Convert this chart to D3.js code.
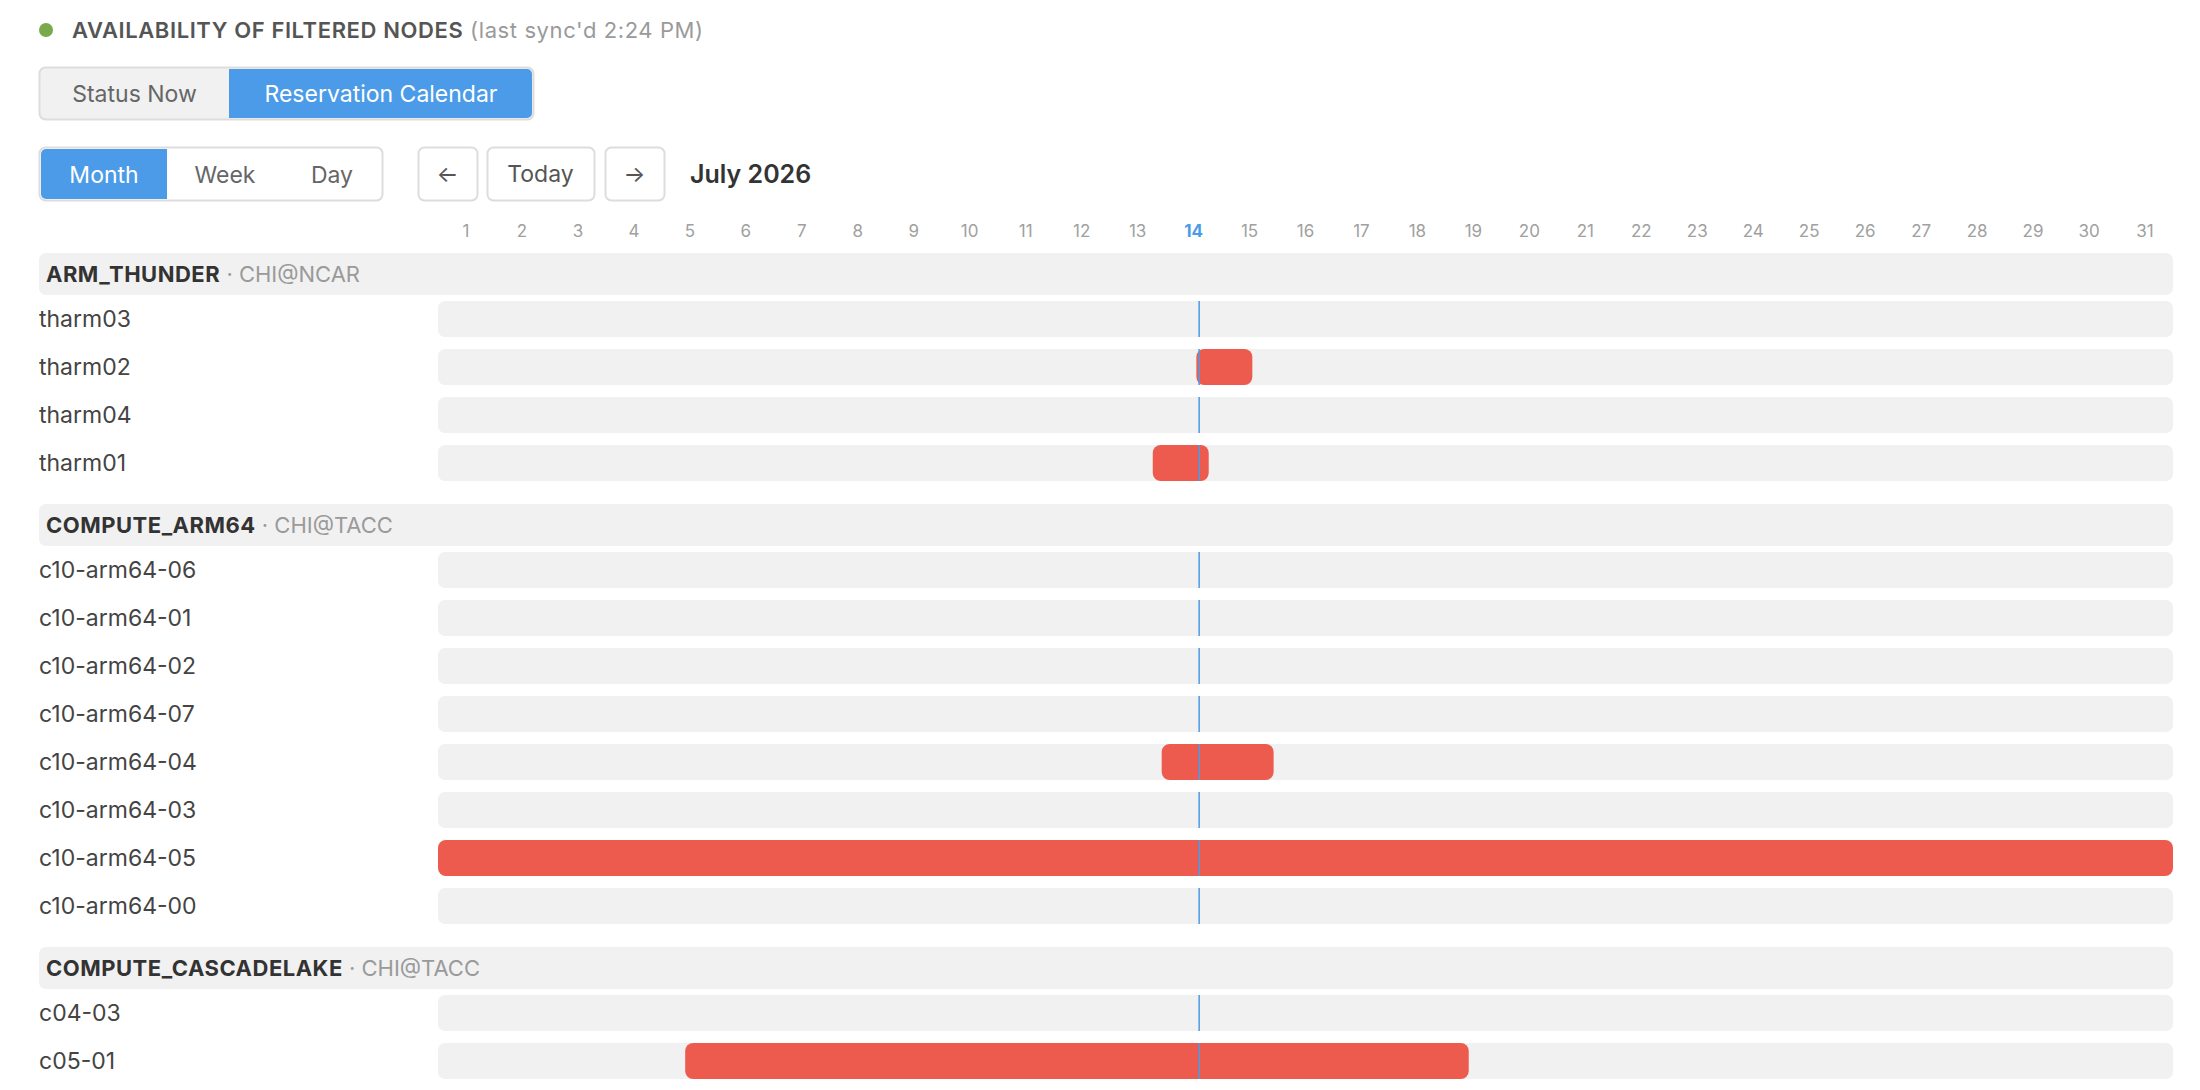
<!DOCTYPE html>
<html><head><meta charset="utf-8">
<script src="https://cdn.jsdelivr.net/npm/d3@7/dist/d3.min.js"></script>
<style>body{margin:0;background:#fff;font-family:Inter,"Noto Sans",sans-serif}</style>
</head><body><svg id="c" width="2200" height="1090"></svg>
<script>
const groups = ["ARM_THUNDER","COMPUTE_ARM64","COMPUTE_CASCADELAKE"];
const sites = ["CHI@NCAR","CHI@TACC","CHI@TACC"];
const nodes = [
  ["tharm03","tharm02","tharm04","tharm01"],
  ["c10-arm64-06","c10-arm64-01","c10-arm64-02","c10-arm64-07","c10-arm64-04","c10-arm64-03","c10-arm64-05","c10-arm64-00"],
  ["c04-03","c05-01"]
];
const resNode = ["tharm02","tharm01","c10-arm64-04","c10-arm64-05","c05-01"];
const resStart = ["2026-07-14T13:12","2026-07-13T18:30","2026-07-13T22:20","2026-07-01T00:00","2026-07-05T10:00"];
const resEnd = ["2026-07-15T13:12","2026-07-14T18:30","2026-07-15T22:20","2026-08-01T00:00","2026-07-19T10:00"];
const dayLabels = d3.range(1,32);
const today = "2026-07-14T14:24";
const todayDay = 14;

const svg = d3.select("#c");
const x = d3.scaleTime().domain([new Date("2026-07-01T00:00"), new Date("2026-08-01T00:00")]).range([438,2173]);
const gray="#9a9a9a", blue="#4c9be8", red="#ec5b4e";

// title
svg.append("circle").attr("cx",46).attr("cy",30).attr("r",7).attr("fill","#78a94a");
const t = svg.append("text").attr("x",72).attr("y",38).attr("font-size",22).attr("letter-spacing",0.6);
t.append("tspan").attr("font-weight",600).attr("fill","#555").text("AVAILABILITY OF FILTERED NODES");
t.append("tspan").attr("fill",gray).text(" (last sync'd 2:24 PM)");

function btn(x0,y0,w,h,label,active,r){
  svg.append("rect").attr("x",x0).attr("y",y0).attr("width",w).attr("height",h).attr("rx",r||0)
    .attr("fill",active?blue:"none");
  svg.append("text").attr("x",x0+w/2).attr("y",y0+h/2+8).attr("text-anchor","middle").attr("font-size",23)
    .attr("fill",active?"#fff":"#666").text(label);
}
// top toggle
svg.append("rect").attr("x",39.5).attr("y",67.5).attr("width",494).attr("height",52).attr("rx",6).attr("fill","#f1f1f1").attr("stroke","#ddd").attr("stroke-width",2);
svg.append("path").attr("d","M229,69H527a5,5 0 0 1 5,5V113a5,5 0 0 1 -5,5H229Z").attr("fill",blue);
btn(40,68,189,51,"Status Now",false);
btn(229,68,304,51,"Reservation Calendar",false);
svg.selectAll("text").filter(function(){return d3.select(this).text()==="Reservation Calendar"}).attr("fill","#fff");

// month/week/day
svg.append("rect").attr("x",39.5).attr("y",147.5).attr("width",343).attr("height",53).attr("rx",6).attr("fill","#fff").attr("stroke","#ddd").attr("stroke-width",2);
svg.append("path").attr("d","M167,149H46a5,5 0 0 0 -5,5V194a5,5 0 0 0 5,5H167Z").attr("fill",blue);
btn(41,149,126,51,"Month",false);
svg.selectAll("text").filter(function(){return d3.select(this).text()==="Month"}).attr("fill","#fff");
btn(167,149,116,51,"Week",false);
btn(283,149,98,51,"Day",false);
[[418,59,"←"],[487,107,"Today"],[605,59,"→"]].forEach(([x0,w,l])=>{
  svg.append("rect").attr("x",x0+0.5).attr("y",147.5).attr("width",w).attr("height",53).attr("rx",6).attr("fill","#fff").attr("stroke","#ddd").attr("stroke-width",2);
  svg.append("text").attr("x",x0+w/2).attr("y",182).attr("text-anchor","middle").attr("font-size",23).attr("fill","#555").text(l);
});
svg.append("text").attr("x",690).attr("y",183).attr("font-size",25).attr("font-weight",600).attr("fill","#333").text("July 2026");

// day labels
svg.selectAll(".day").data(dayLabels).join("text")
  .attr("x",d=>x(new Date(2026,6,d,12))).attr("y",237).attr("text-anchor","middle").attr("font-size",17)
  .attr("fill",d=>d===todayDay?blue:"#a0a0a0").attr("font-weight",d=>d===todayDay?700:400).text(d=>d);

// rows
let y=253; const rowY={};
const rowSpans=[];
groups.forEach((g,i)=>{
  svg.append("rect").attr("x",39).attr("y",y).attr("width",2134).attr("height",42).attr("rx",7).attr("fill","#f1f1f1");
  const ht=svg.append("text").attr("x",46).attr("y",y+29).attr("font-size",22);
  ht.append("tspan").attr("font-weight",700).attr("fill","#333").attr("letter-spacing",0.5).text(g);
  ht.append("tspan").attr("fill",gray).text(" · "+sites[i]);
  y+=48;
  nodes[i].forEach((n,j)=>{
    rowY[n]=y;
    svg.append("rect").attr("x",x.range()[0]).attr("y",y).attr("width",x.range()[1]-x.range()[0]).attr("height",36).attr("rx",7).attr("fill","#f1f1f1");
    svg.append("text").attr("x",39).attr("y",y+26).attr("font-size",23).attr("fill","#444").text(n);
    rowSpans.push(y);
    y+=48;
  });
  y+=-48+36+23;
});
// reservations
resNode.forEach((n,i)=>{
  const x0=x(new Date(resStart[i])), x1=x(new Date(resEnd[i]));
  svg.append("rect").attr("x",x0).attr("y",rowY[n]).attr("width",x1-x0).attr("height",36).attr("rx",8).attr("fill",red);
});
// today line
const tx=x(new Date(today));
rowSpans.forEach(ry=>{
  svg.append("line").attr("x1",tx).attr("x2",tx).attr("y1",ry).attr("y2",ry+36).attr("stroke",blue).attr("stroke-width",1.5);
});
</script></body></html>
